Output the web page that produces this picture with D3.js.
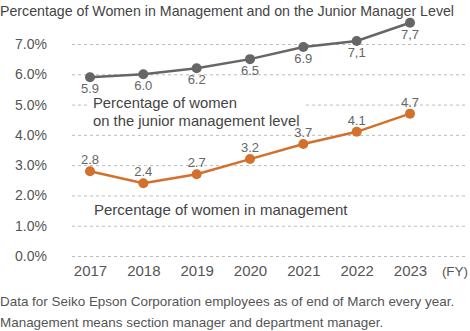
<!DOCTYPE html>
<html>
<head>
<meta charset="utf-8">
<script src="https://cdn.jsdelivr.net/npm/d3@7"></script>
<style>
  body { margin: 0; background: #fff; }
  svg { display: block; font-family: "Liberation Sans", Arial, sans-serif; }
  .axis text { fill: #555; }
</style>
</head>
<body>
<div id="chart"></div>
<script>
const years = ['2017', '2018', '2019', '2020', '2021', '2022', '2023'];
const juniorValues = [5.9, 6.0, 6.2, 6.5, 6.9, 7.1, 7.7];
const juniorLabels = ['5.9', '6.0', '6.2', '6.5', '6.9', '7,1', '7,7'];
const mgmtValues = [2.8, 2.4, 2.7, 3.2, 3.7, 4.1, 4.7];
const mgmtLabels = ['2.8', '2.4', '2.7', '3.2', '3.7', '4.1', '4.7'];
const yTicks = [0, 1, 2, 3, 4, 5, 6, 7];

const width = 470, height = 331;
const gridLeft = 72, gridRight = 468;

const svg = d3.select('#chart').append('svg')
    .attr('width', width)
    .attr('height', height);

const x = d3.scalePoint().domain(years).range([90, 410]);
const y = d3.scaleLinear().domain([0, 7]).range([256, 44]);

// Title
svg.append('text')
    .attr('x', 0)
    .attr('y', 16)
    .attr('font-size', 14.2)
    .attr('fill', '#444')
    .text('Percentage of Women in Management and on the Junior Manager Level');

// Gridlines
const grid = svg.append('g')
    .attr('transform', `translate(${gridLeft},0)`)
    .call(d3.axisLeft(y).tickValues(yTicks).tickSize(-(gridRight - gridLeft)).tickFormat(''));
grid.select('.domain').remove();
grid.selectAll('line')
    .attr('stroke', '#bbb')
    .attr('stroke-width', 1)
    .attr('stroke-dasharray', '3,3');

// Y axis labels
const yAxis = svg.append('g')
    .attr('class', 'axis')
    .attr('transform', 'translate(47,0)')
    .call(d3.axisLeft(y).tickValues(yTicks).tickSize(0).tickPadding(0)
        .tickFormat(d => d.toFixed(1) + '%'));
yAxis.select('.domain').remove();
yAxis.selectAll('text').attr('font-size', 14).attr('font-family', null);

// X axis labels
const xAxis = svg.append('g')
    .attr('class', 'axis')
    .attr('transform', 'translate(0,256)')
    .call(d3.axisBottom(x).tickSize(0).tickPadding(9));
xAxis.select('.domain').remove();
xAxis.selectAll('text').attr('font-size', 15).attr('font-family', null);

svg.append('text')
    .attr('x', 455)
    .attr('y', 275.5)
    .attr('text-anchor', 'middle')
    .attr('font-size', 13.5)
    .attr('fill', '#555')
    .text('(FY)');

// Series annotations (white background hides the gridlines behind them)
function annotation(lines, xPos, yPos, lineGap, size) {
    const g = svg.append('g');
    const bg = g.append('rect').attr('fill', '#fff');
    const t = g.append('text')
        .attr('font-size', size)
        .attr('fill', '#444');
    lines.forEach((s, i) => {
        t.append('tspan').attr('x', xPos).attr('y', yPos + i * lineGap).text(s);
    });
    const bb = t.node().getBBox();
    bg.attr('x', bb.x - 5).attr('y', bb.y).attr('width', bb.width + 10).attr('height', bb.height);
}
annotation(['Percentage of women', 'on the junior management level'], 93, 108, 17.5, 14.8);
annotation(['Percentage of women in management'], 94, 215, 20, 15);

// Lines
const line = d3.line()
    .x((d, i) => x(years[i]))
    .y(d => y(d));

function series(values, labels, color, labelDy) {
    svg.append('path')
        .datum(values)
        .attr('fill', 'none')
        .attr('stroke', color)
        .attr('stroke-width', 2.5)
        .attr('d', line);
    svg.append('g').selectAll('circle')
        .data(values)
        .join('circle')
        .attr('cx', (d, i) => x(years[i]))
        .attr('cy', d => y(d))
        .attr('r', 5)
        .attr('fill', color);
    svg.append('g').selectAll('text')
        .data(values)
        .join('text')
        .attr('x', (d, i) => x(years[i]))
        .attr('y', d => y(d) + labelDy)
        .attr('text-anchor', 'middle')
        .attr('font-size', 13)
        .attr('fill', '#666')
        .text((d, i) => labels[i]);
}
series(juniorValues, juniorLabels, '#666666', 16);
series(mgmtValues, mgmtLabels, '#d2702c', -7);

// Notes
svg.append('text')
    .attr('x', 0)
    .attr('y', 306)
    .attr('font-size', 13.45)
    .attr('fill', '#555')
    .text('Data for Seiko Epson Corporation employees as of end of March every year.');
svg.append('text')
    .attr('x', 0)
    .attr('y', 327)
    .attr('font-size', 13.45)
    .attr('fill', '#555')
    .text('Management means section manager and department manager.');
</script>
</body>
</html>
